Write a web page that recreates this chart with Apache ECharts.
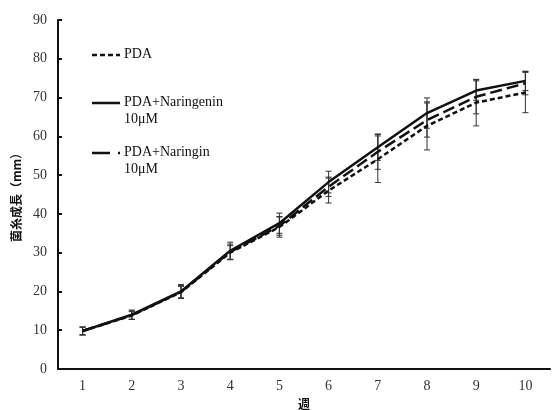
<!DOCTYPE html>
<html><head><meta charset="utf-8">
<script src="https://cdn.jsdelivr.net/npm/echarts@6/dist/echarts.min.js"></script>
<style>html,body{margin:0;padding:0;background:#fff}#c{width:552px;height:410px}</style>
</head><body><div id="c"></div>
<script>
var weeks = ['1','2','3','4','5','6','7','8','9','10'];
var pda = [9.8, 13.8, 19.8, 30.0, 36.6, 46.0, 54.1, 62.7, 68.7, 71.3];
var pdaErr = [1.0, 1.0, 1.5, 1.8, 2.6, 3.2, 6.0, 6.2, 6.0, 5.2];
var naringenin = [9.8, 14.0, 20.0, 30.5, 37.6, 48.2, 57.2, 66.0, 71.8, 74.3];
var naringeninErr = [1.0, 1.2, 1.8, 2.2, 2.6, 2.8, 3.4, 3.9, 2.5, 2.5];
var naringin = [9.8, 13.9, 19.9, 30.2, 36.9, 47.0, 56.0, 64.2, 70.2, 73.7];
var naringinErr = [1.0, 1.1, 1.6, 2.0, 2.4, 2.5, 4.5, 4.4, 4.4, 3.0];
var yTicks = [0, 10, 20, 30, 40, 50, 60, 70, 80, 90];
var seriesNames = ['PDA', 'PDA+Naringenin\n10μM', 'PDA+Naringin\n10μM'];

var serif = '"Liberation Serif", "DejaVu Serif", serif';
var cjk = '"Noto Sans CJK JP", sans-serif';
var dashPDA = [5, 3];
var dashNaringin = [12, 5];

function errSeries(vals, errs) {
  var d = vals.map(function (v, i) { return [i, v - errs[i], v + errs[i]]; });
  return {
    type: 'custom', silent: true, z: 1,
    renderItem: function (params, api) {
      var x = api.value(0);
      var lo = api.coord([x, api.value(1)]);
      var hi = api.coord([x, api.value(2)]);
      var w = 3;
      var st = { stroke: '#333', lineWidth: 1 };
      return { type: 'group', children: [
        { type: 'line', shape: { x1: lo[0], y1: lo[1], x2: hi[0], y2: hi[1] }, style: st },
        { type: 'line', shape: { x1: lo[0] - w, y1: lo[1], x2: lo[0] + w, y2: lo[1] }, style: st },
        { type: 'line', shape: { x1: hi[0] - w, y1: hi[1], x2: hi[0] + w, y2: hi[1] }, style: st }
      ]};
    },
    encode: { x: 0, y: [1, 2] },
    data: d
  };
}

function legendItem(y, dash, label) {
  return [
    { type: 'line', shape: { x1: 92, y1: y, x2: 120, y2: y },
      style: { stroke: '#111', lineWidth: 2.5, lineDash: dash } },
    { type: 'text', x: 124, y: y - 9,
      style: { text: label, font: '14px ' + serif, fill: '#111', lineHeight: 17 } }
  ];
}

var graphics = [].concat(
  legendItem(55, dashPDA, seriesNames[0]),
  legendItem(103, null, seriesNames[1]),
  legendItem(153, [18, 8], seriesNames[2])
);

var chart = echarts.init(document.getElementById('c'));
chart.setOption({
  animation: false,
  grid: { left: 58, right: 2, top: 20, bottom: 41, containLabel: false, outerBoundsMode: 'none' },
  graphic: graphics,
  xAxis: {
    type: 'category', data: weeks, boundaryGap: true,
    name: '週', nameLocation: 'middle', nameGap: 29,
    nameTextStyle: { fontFamily: cjk, fontWeight: 'bold', fontSize: 12, color: '#111' },
    axisLine: { lineStyle: { color: '#111', width: 2 } },
    axisTick: { inside: true, length: 4, lineStyle: { color: '#111', width: 2 } },
    axisLabel: { fontFamily: serif, fontSize: 14, color: '#333', margin: 10 }
  },
  yAxis: {
    type: 'value', min: 0, max: 90, interval: 10,
    name: '菌糸成長（mm）', nameLocation: 'middle', nameGap: 34,
    nameTextStyle: { fontFamily: cjk, fontWeight: 'bold', fontSize: 12, color: '#111' },
    axisLine: { show: true, lineStyle: { color: '#111', width: 2 } },
    axisTick: { show: true, inside: true, length: 4, lineStyle: { color: '#111', width: 2 } },
    splitLine: { show: false },
    axisLabel: { fontFamily: serif, fontSize: 14, color: '#333', margin: 11,
      formatter: function (v) { return yTicks.indexOf(v) >= 0 ? String(v) : ''; } }
  },
  series: [
    errSeries(pda, pdaErr),
    errSeries(naringenin, naringeninErr),
    errSeries(naringin, naringinErr),
    { name: seriesNames[0], type: 'line', data: pda, smooth: false, symbol: 'none', z: 3,
      lineStyle: { color: '#111', width: 2.5, type: dashPDA } },
    { name: seriesNames[1], type: 'line', data: naringenin, smooth: false, symbol: 'none', z: 3,
      lineStyle: { color: '#111', width: 2.5, type: 'solid' } },
    { name: seriesNames[2], type: 'line', data: naringin, smooth: false, symbol: 'none', z: 3,
      lineStyle: { color: '#111', width: 2.5, type: dashNaringin } }
  ]
});
</script></body></html>
